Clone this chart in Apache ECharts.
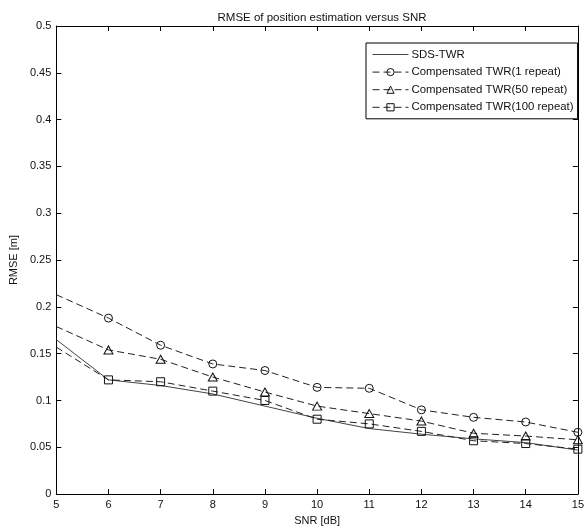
<!DOCTYPE html>
<html>
<head>
<meta charset="utf-8">
<script src="https://cdn.jsdelivr.net/npm/echarts@6/dist/echarts.min.js"></script>
<style>html,body{margin:0;padding:0;background:#fff;}#c{width:587px;height:531px;}</style>
</head>
<body>
<div id="c"></div>
<script>
const snr = [5, 6, 7, 8, 9, 10, 11, 12, 13, 14, 15];
const sdsTwr = [0.165, 0.122, 0.116, 0.107, 0.094, 0.081, 0.070, 0.064, 0.059, 0.055, 0.047];
const comp1 = [0.213, 0.188, 0.159, 0.139, 0.132, 0.114, 0.113, 0.090, 0.082, 0.077, 0.066];
const comp50 = [0.179, 0.154, 0.144, 0.125, 0.109, 0.094, 0.086, 0.078, 0.065, 0.062, 0.058];
const comp100 = [0.157, 0.122, 0.120, 0.110, 0.100, 0.080, 0.075, 0.067, 0.057, 0.054, 0.048];
const seriesNames = ['SDS-TWR', 'Compensated TWR(1 repeat)', 'Compensated TWR(50 repeat)', 'Compensated TWR(100 repeat)'];

function pts(vals, hideFirst) {
  return vals.map((v, i) => {
    const p = { value: [snr[i], v] };
    if (hideFirst && i === 0) p.symbol = 'none';
    return p;
  });
}

const font = 'Liberation Sans, Arial, Helvetica, sans-serif';
const axisCommon = {
  type: 'value',
  axisLine: { show: true, onZero: false, lineStyle: { color: '#000', width: 1 } },
  axisTick: { show: true, inside: true, length: 5, lineStyle: { color: '#000' } },
  splitLine: { show: false }
};
const markerStyle = { color: 'rgba(255,255,255,0)', borderColor: '#111', borderWidth: 1 };

const chart = echarts.init(document.getElementById('c'), null, { renderer: 'canvas' });
chart.setOption({
  animation: false,
  backgroundColor: '#fff',
  title: {
    text: 'RMSE of position estimation versus SNR',
    left: 317, top: 7, textAlign: 'center',
    textStyle: { fontFamily: font, fontSize: 11.5, fontWeight: 'normal', color: '#111' }
  },
  grid: { left: 53, right: 5, top: 26, bottom: 33, containLabel: false },
  legend: {
    data: [
      { name: seriesNames[0], itemStyle: { opacity: 0 } },
      { name: seriesNames[1] },
      { name: seriesNames[2] },
      { name: seriesNames[3] }
    ],
    orient: 'vertical',
    left: 366, top: 43,
    backgroundColor: '#fff',
    borderColor: '#000', borderWidth: 1,
    padding: [6, 4, 6, 6],
    itemWidth: 36, itemHeight: 9, itemGap: 6.6,
    lineStyle: { width: 1 },
    itemStyle: { borderWidth: 1, borderColor: '#111', color: 'rgba(255,255,255,0)' },
    textStyle: { fontFamily: font, fontSize: 11.4, color: '#111', padding: [0, 0, 0, -2] }
  },
  xAxis: [
    Object.assign({}, axisCommon, {
      min: 5, max: 15, interval: 1, position: 'bottom',
      name: 'SNR [dB]', nameLocation: 'middle', nameGap: 20,
      nameTextStyle: { fontFamily: font, fontSize: 11, color: '#111' },
      axisLabel: { fontFamily: font, fontSize: 11, color: '#111', margin: 5 }
    }),
    Object.assign({}, axisCommon, {
      min: 5, max: 15, interval: 1, position: 'top',
      axisLabel: { show: false }
    })
  ],
  yAxis: [
    Object.assign({}, axisCommon, {
      min: 0, max: 0.5, interval: 0.05, position: 'left',
      name: 'RMSE [m]', nameLocation: 'middle', nameGap: 34, nameRotate: 90,
      nameTextStyle: { fontFamily: font, fontSize: 11, color: '#111' },
      axisLabel: { fontFamily: font, fontSize: 11, color: '#111', margin: 5 }
    }),
    Object.assign({}, axisCommon, {
      min: 0, max: 0.5, interval: 0.05, position: 'right',
      axisLabel: { show: false }
    })
  ],
  series: [
    {
      name: seriesNames[0], type: 'line', data: pts(sdsTwr, true),
      symbol: 'none', showSymbol: false,
      lineStyle: { color: '#444', width: 1, type: 'solid' },
      itemStyle: { color: '#444' }
    },
    {
      name: seriesNames[1], type: 'line', data: pts(comp1, true),
      symbol: 'circle', symbolSize: 8,
      lineStyle: { color: '#222', width: 1, type: [7, 4] },
      itemStyle: markerStyle
    },
    {
      name: seriesNames[2], type: 'line', data: pts(comp50, true),
      symbol: 'triangle', symbolSize: [9, 8],
      lineStyle: { color: '#222', width: 1, type: [7, 4] },
      itemStyle: markerStyle
    },
    {
      name: seriesNames[3], type: 'line', data: pts(comp100, true),
      symbol: 'rect', symbolSize: 8,
      lineStyle: { color: '#222', width: 1, type: [7, 4] },
      itemStyle: markerStyle
    }
  ]
});
</script>
</body>
</html>
